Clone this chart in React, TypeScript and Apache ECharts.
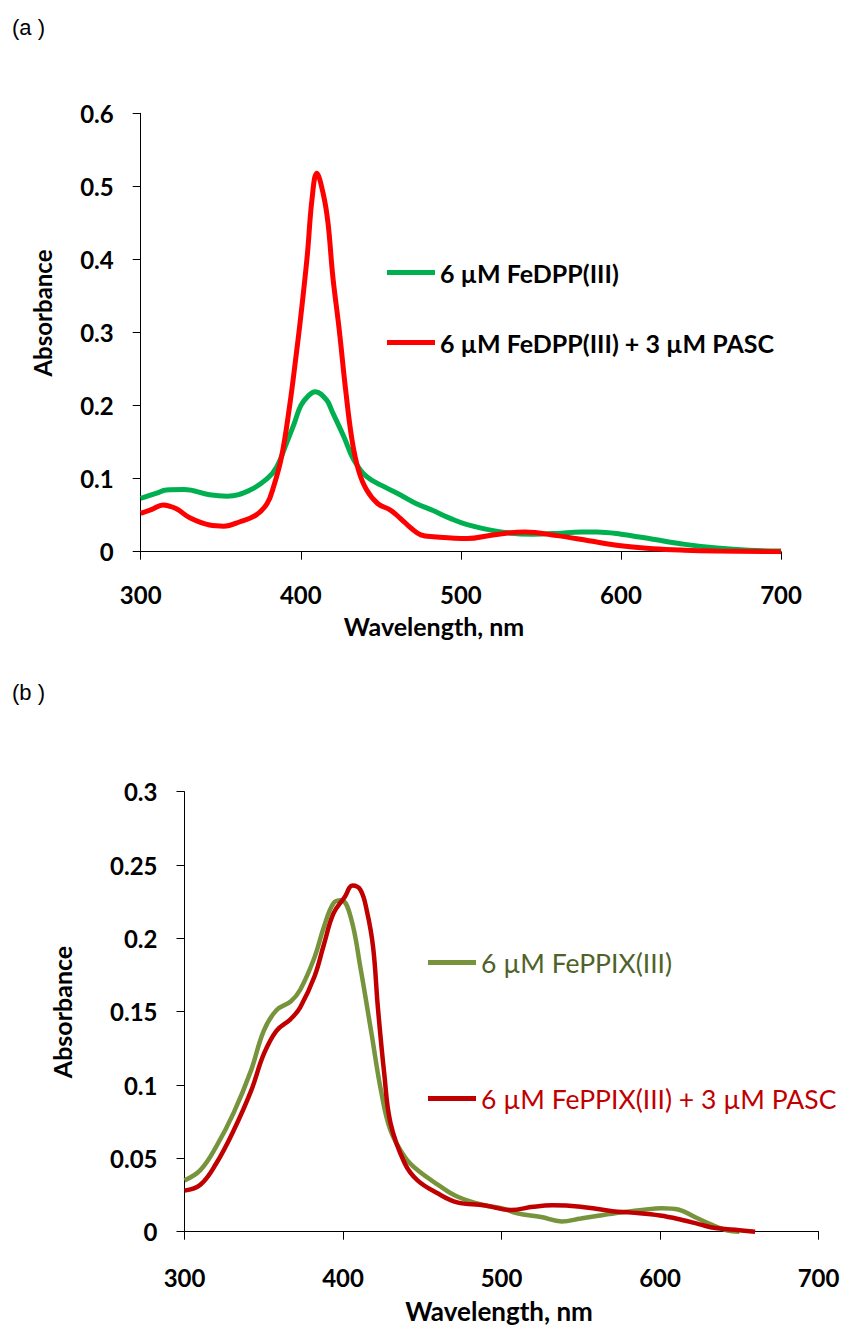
import React, { useEffect, useRef } from "react";
import * as echarts from "echarts";

const FONT = "Lato, 'Open Sans', sans-serif";

const xTicks = [300, 400, 500, 600, 700];

// Panel (a)
const aNameGreen = "6 µM FeDPP(III)";
const aNameRed = "6 µM FeDPP(III) + 3 µM PASC";
const aGreenX = [300, 310, 316, 327, 343, 354, 368, 379, 385, 391, 396, 400, 405, 409, 416, 420, 427, 433, 441, 452, 462, 472, 483, 493, 504, 525, 545, 560, 575, 585, 600, 620, 640, 660, 680, 700];
const aGreenY = [0.073, 0.08, 0.0845, 0.085, 0.078, 0.076, 0.084, 0.1, 0.116, 0.148, 0.176, 0.2, 0.214, 0.219, 0.208, 0.19, 0.157, 0.126, 0.103, 0.089, 0.078, 0.066, 0.056, 0.046, 0.037, 0.027, 0.024, 0.025, 0.027, 0.027, 0.024, 0.017, 0.01, 0.005, 0.002, 0.001];
const aRedX = [300, 307, 314, 322, 331, 343, 352, 362, 372, 379, 383, 388, 393, 397, 400, 404, 407, 410, 414, 417, 420, 424, 428, 432, 436, 441, 448, 456, 462, 469, 475, 483, 504, 520, 540, 560, 580, 600, 620, 640, 660, 700];
const aRedY = [0.0525, 0.058, 0.064, 0.059, 0.046, 0.0365, 0.035, 0.041, 0.05, 0.066, 0.089, 0.13, 0.199, 0.267, 0.322, 0.404, 0.482, 0.518, 0.49, 0.45, 0.377, 0.304, 0.222, 0.153, 0.112, 0.085, 0.066, 0.057, 0.046, 0.032, 0.023, 0.0205, 0.018, 0.023, 0.027, 0.022, 0.015, 0.008, 0.004, 0.002, 0.001, 0.0];

// Panel (b)
const bNameGreen = "6 µM FePPIX(III)";
const bNameRed = "6 µM FePPIX(III) + 3 µM PASC";
const bGreenX = [300, 310, 320, 331, 342, 350, 358, 367, 373, 382, 388, 394, 399, 405, 411, 418, 424, 430, 439, 447, 460, 472, 489, 500, 510, 525, 538, 550, 562, 575, 590, 601, 612, 622, 632, 642, 650];
const bGreenY = [0.035, 0.042, 0.058, 0.081, 0.11, 0.137, 0.151, 0.157, 0.165, 0.187, 0.208, 0.224, 0.226, 0.214, 0.18, 0.135, 0.096, 0.069, 0.051, 0.042, 0.032, 0.024, 0.018, 0.016, 0.0125, 0.01, 0.007, 0.009, 0.011, 0.013, 0.015, 0.016, 0.015, 0.01, 0.005, 0.001, 0.0];
const bRedX = [300, 310, 320, 331, 342, 350, 358, 367, 373, 382, 388, 394, 401, 406, 411, 415, 419, 422, 426, 430, 439, 447, 460, 472, 489, 506, 520, 532, 550, 570, 582, 600, 614, 625, 635, 650, 660];
const bRedY = [0.028, 0.032, 0.0465, 0.069, 0.096, 0.121, 0.137, 0.145, 0.153, 0.174, 0.196, 0.217, 0.228, 0.236, 0.233, 0.219, 0.194, 0.153, 0.108, 0.074, 0.0465, 0.035, 0.026, 0.02, 0.018, 0.0148, 0.017, 0.018, 0.017, 0.014, 0.013, 0.011, 0.008, 0.005, 0.0025, 0.001, 0.0];

const pairs = (xs: number[], ys: number[]) => xs.map((x, i) => [x, ys[i]]);

export default function App() {
  const ref = useRef<HTMLDivElement>(null);
  useEffect(() => {
    document.body.style.margin = "0";
    const chart = echarts.init(ref.current!, null, { renderer: "svg" });
    const xAxisBase = (gridIndex: number, margin: number) => ({
      type: "value",
      gridIndex,
      min: xTicks[0],
      max: xTicks[xTicks.length - 1],
      interval: 100,
      axisLine: { show: true, lineStyle: { color: "#000", width: 1 } },
      axisTick: { show: true, length: 8, lineStyle: { color: "#000" } },
      splitLine: { show: false },
      axisLabel: { fontSize: 24, fontWeight: "bold", color: "#000", fontFamily: FONT, margin },
    });
    const yAxisBase = (gridIndex: number, max: number, interval: number) => ({
      type: "value",
      gridIndex,
      min: 0,
      max,
      interval,
      axisLine: { show: true, lineStyle: { color: "#000", width: 1 } },
      axisTick: { show: true, length: 8, lineStyle: { color: "#000" } },
      splitLine: { show: false },
      axisLabel: { fontSize: 24, fontWeight: "bold", color: "#000", fontFamily: FONT, margin: 27 },
    });
    const lineSeries = (name: string, data: number[][], color: string, width: number, idx: number) => ({
      type: "line",
      name,
      xAxisIndex: idx,
      yAxisIndex: idx,
      data,
      showSymbol: false,
      smooth: 0.4,
      color,
      lineStyle: { color, width },
      itemStyle: { color },
    });
    const legendBase = (name: string, left: number, top: number, textColor: string, weight: string, size: number) => ({
      data: [{ name }],
      left,
      top,
      padding: 0,
      orient: "vertical",
      icon: "rect",
      itemWidth: 48,
      itemHeight: 5,
      textStyle: { fontSize: size, fontWeight: weight, color: textColor, fontFamily: FONT },
    });
    chart.setOption({
      animation: false,
      grid: [
        { left: 140.7, top: 113.3, width: 640.3, height: 438.4 },
        { left: 184.5, top: 791.7, width: 634, height: 440 },
      ],
      xAxis: [xAxisBase(0, 31), xAxisBase(1, 34)],
      yAxis: [yAxisBase(0, 0.6, 0.1), yAxisBase(1, 0.3, 0.05)],
      legend: [
        legendBase(aNameGreen, 387, 260, "#000", "bold", 25),
        legendBase(aNameRed, 387, 330, "#000", "bold", 25),
        legendBase(bNameGreen, 428, 949, "#4F6228", "normal", 26.5),
        legendBase(bNameRed, 428, 1085, "#C00000", "normal", 26.5),
      ],
      series: [
        lineSeries(aNameGreen, pairs(aGreenX, aGreenY), "#00B050", 5, 0),
        lineSeries(aNameRed, pairs(aRedX, aRedY), "#FF0000", 5, 0),
        lineSeries(bNameGreen, pairs(bGreenX, bGreenY), "#77933C", 4.5, 1),
        lineSeries(bNameRed, pairs(bRedX, bRedY), "#C00000", 4.5, 1),
      ],
      graphic: [
        { type: "text", left: 12, top: 16, style: { text: "(a )", font: "22px 'Liberation Sans', Arial, sans-serif", fill: "#000" } },
        { type: "text", left: 12, top: 681, style: { text: "(b )", font: "22px 'Liberation Sans', Arial, sans-serif", fill: "#000" } },
        { type: "text", x: 434, y: 626, style: { text: "Wavelength, nm", align: "center", verticalAlign: "middle", font: "bold 25px " + FONT, fill: "#000" } },
        { type: "text", x: 499, y: 1311, style: { text: "Wavelength, nm", align: "center", verticalAlign: "middle", font: "bold 26px " + FONT, fill: "#000" } },
        { type: "text", x: 42, y: 313, rotation: Math.PI / 2, style: { text: "Absorbance", align: "center", verticalAlign: "middle", font: "bold 24px " + FONT, fill: "#000" } },
        { type: "text", x: 62, y: 1012, rotation: Math.PI / 2, style: { text: "Absorbance", align: "center", verticalAlign: "middle", font: "bold 25px " + FONT, fill: "#000" } },
      ],
    });
    return () => chart.dispose();
  }, []);
  return <div ref={ref} style={{ width: 843, height: 1330 }} />;
}
